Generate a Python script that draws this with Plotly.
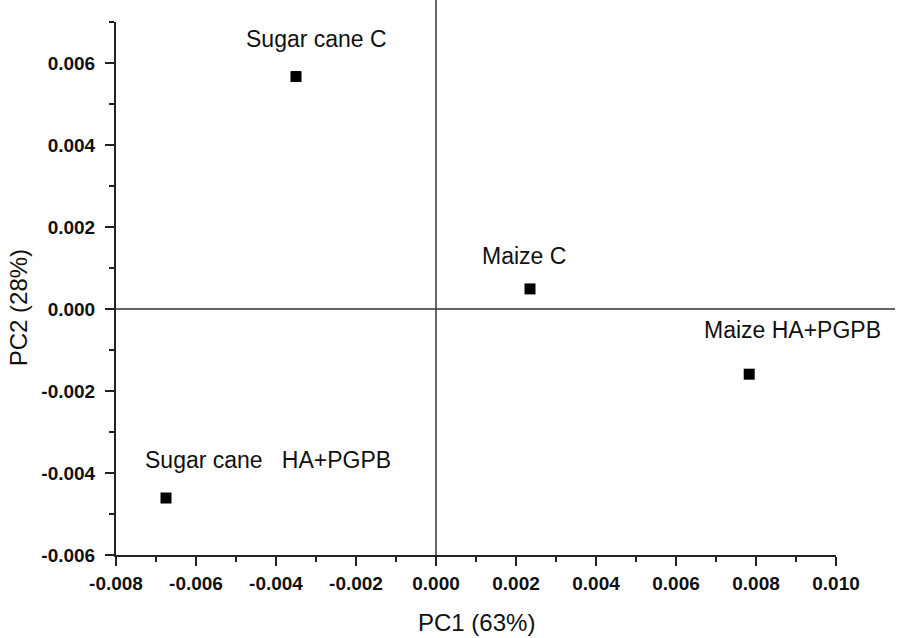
import plotly.graph_objects as go

# Data
samples = ["Sugar cane C", "Maize C", "Maize HA+PGPB", "Sugar cane   HA+PGPB"]
pc1 = [-0.0035, 0.00235, 0.00783, -0.00675]
pc2 = [0.00567, 0.00049, -0.00159, -0.00461]
x_title = "PC1 (63%)"
y_title = "PC2 (28%)"
x_ticks = [-0.008, -0.006, -0.004, -0.002, 0.000, 0.002, 0.004, 0.006, 0.008, 0.010]
x_ticklabels = ["-0.008", "-0.006", "-0.004", "-0.002", "0.000", "0.002", "0.004", "0.006", "0.008", "0.010"]
y_ticks = [-0.006, -0.004, -0.002, 0.000, 0.002, 0.004, 0.006]
y_ticklabels = ["-0.006", "-0.004", "-0.002", "0.000", "0.002", "0.004", "0.006"]

# label offsets (pixels) relative to each point
label_dx = [20, -6, 43, 102]
label_dy = [38, 33, 44, 38]

FONT = "Liberation Sans, Arial, sans-serif"

fig = go.Figure()
fig.add_trace(go.Scatter(
    x=pc1, y=pc2, mode="markers",
    marker=dict(symbol="square", size=11, color="black"),
    showlegend=False, hoverinfo="text", text=samples,
))

for name, xv, yv, dx, dy in zip(samples, pc1, pc2, label_dx, label_dy):
    fig.add_annotation(x=xv, y=yv, xref="x", yref="y", text=name.replace(" ", "&nbsp;"),
                       showarrow=False, xshift=dx, yshift=dy,
                       xanchor="center", yanchor="middle",
                       font=dict(family=FONT, size=23, color="#111"))

# zero lines extending beyond plot like original
fig.add_shape(type="line", xref="paper", yref="y", x0=0, x1=1.082, y0=0, y1=0,
              line=dict(color="#333", width=1.5))
fig.add_shape(type="line", xref="x", yref="paper", x0=0, x1=0, y0=0, y1=1.042,
              line=dict(color="#333", width=1.5))

fig.add_annotation(text=x_title, xref="paper", yref="paper", x=0.5, y=-0.126,
                   xanchor="center", yanchor="middle",
                   showarrow=False, font=dict(family=FONT, size=24, color="#111"))
fig.add_annotation(text=y_title, xref="paper", yref="paper", x=-0.136, y=0.463,
                   xanchor="center", yanchor="middle",
                   textangle=-90, showarrow=False, font=dict(family=FONT, size=24, color="#111"))

axis_common = dict(
    showgrid=False, zeroline=False, showline=True, linecolor="#222", linewidth=2,
    ticks="outside", ticklen=9, tickwidth=1.5, tickcolor="#222",
    tickfont=dict(family=FONT, size=19, color="#111", weight="bold"),
    minor=dict(ticks="outside", ticklen=5, tickwidth=1.5, tickcolor="#222", dtick=0.001),
)

fig.update_xaxes(range=[-0.008, 0.010], tickvals=x_ticks, ticktext=x_ticklabels,
                 ticklabelstandoff=1, **axis_common)
fig.update_yaxes(range=[-0.006, 0.007], tickvals=y_ticks, ticktext=y_ticklabels,
                 ticklabelstandoff=6, **axis_common)

fig.update_layout(
    width=898, height=638,
    margin=dict(l=116, r=62, t=22, b=83),
    plot_bgcolor="white", paper_bgcolor="white",
)

fig.write_html("out.html", config={"displayModeBar": False},
               post_script="document.body.style.margin='0';document.body.style.overflow='hidden';")
